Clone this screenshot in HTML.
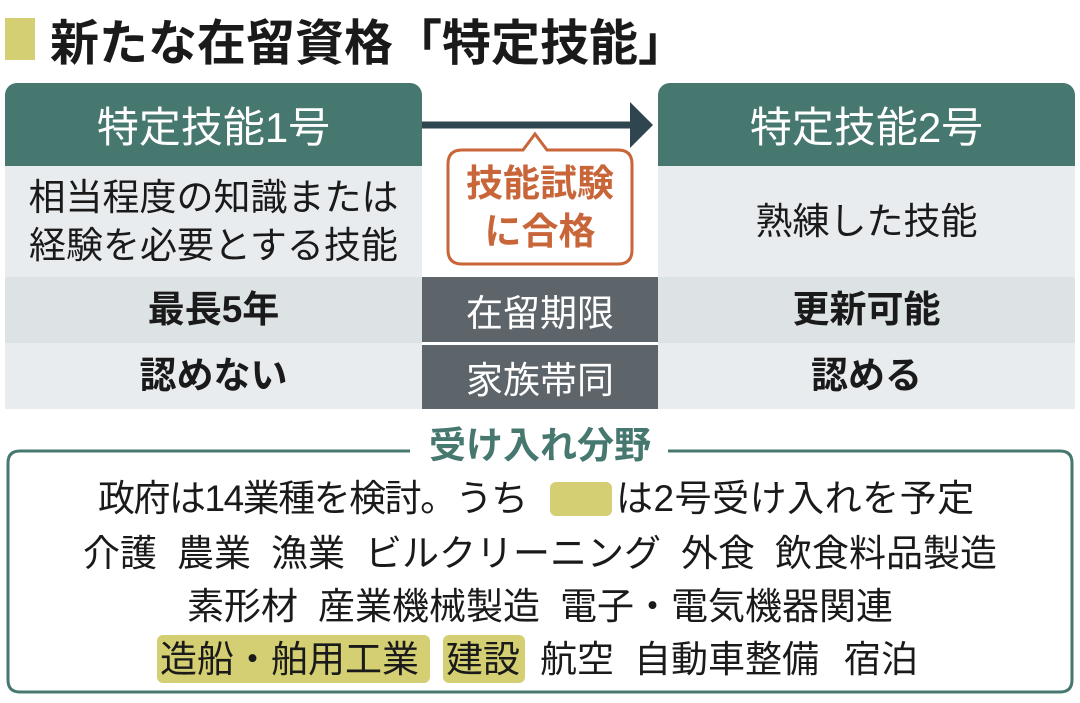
<!DOCTYPE html>
<html><head><meta charset="utf-8"><style>
*{margin:0;padding:0;box-sizing:border-box}
body{width:1080px;height:703px;background:#fff;position:relative;overflow:hidden;font-family:"Liberation Sans","Noto Sans CJK JP",sans-serif;color:#1a1a1a}
.a{position:absolute}
.c{display:flex;align-items:center;justify-content:center;text-align:center}
.hd{background:#477870;color:#fff;font-size:42px;border-radius:12px 12px 0 0}
.t{font-size:37px;line-height:48px;white-space:nowrap}
.l1{background:#e9ecee}.l2{background:#dde2e5}.l3{background:#e9ecee}
.g{background:#5e656a;color:#fff;font-size:37px}
.hl{background:#d3cf72;border-radius:6px}
.w{position:absolute;font-size:37px;white-space:nowrap;line-height:44px}
.ln{position:absolute;left:0;width:1080px;display:flex;justify-content:center;font-size:37px;white-space:nowrap;line-height:44px}
</style></head><body>
<div class="a" style="left:5px;top:18px;width:30px;height:42px;background:#d3cf72"></div>
<div class="a" style="left:50px;top:4px;font-size:49px;font-weight:bold;white-space:nowrap">新たな在留資格「特定技能」</div>

<div class="a c hd" style="left:5px;top:83px;width:417px;height:83px">特定技能1号</div>
<div class="a c hd" style="left:658px;top:83px;width:417px;height:83px">特定技能2号</div>
<div class="a c t l1" style="left:5px;top:166px;width:417px;height:111px">相当程度の知識または<br>経験を必要とする技能</div>
<div class="a c t l1" style="left:658px;top:166px;width:417px;height:111px">熟練した技能</div>
<div class="a c t l2" style="left:5px;top:277px;width:417px;height:66px;font-weight:bold">最長5年</div>
<div class="a c t l2" style="left:658px;top:277px;width:417px;height:66px;font-weight:bold">更新可能</div>
<div class="a c t l3" style="left:5px;top:343px;width:417px;height:66px;font-weight:bold">認めない</div>
<div class="a c t l3" style="left:658px;top:343px;width:417px;height:66px;font-weight:bold">認める</div>
<div class="a c g" style="left:422px;top:277px;width:236px;height:65px">在留期限</div>
<div class="a c g" style="left:422px;top:345px;width:236px;height:64px">家族帯同</div>

<svg class="a" style="left:0;top:0" width="1080" height="703">
<line x1="422" y1="125" x2="632" y2="125" stroke="#2f4650" stroke-width="7"/>
<polygon points="630,102 653,125 630,148" fill="#2f4650"/>
<path d="M462,150 H523 L535,134 L547,150 H618 Q632,150 632,164 V250 Q632,264 618,264 H462 Q448,264 448,250 V164 Q448,150 462,150 Z" fill="#fff" stroke="#c8663a" stroke-width="3"/>
<path d="M410,451 H20 Q8,451 8,463 V680 Q8,692 20,692 H1060 Q1072,692 1072,680 V463 Q1072,451 1060,451 H668" fill="none" stroke="#477870" stroke-width="3"/>
</svg>
<div class="a c" style="left:448px;top:158px;width:184px;height:100px;color:#c8663a;font-size:37px;font-weight:bold;line-height:48px">技能試験<br>に合格</div>
<div class="a" style="left:0;width:1080px;top:424px;text-align:center;color:#477870;font-size:37px;font-weight:bold;line-height:44px">受け入れ分野</div>

<div class="a hl" style="left:550px;top:482px;width:62px;height:34px"></div>
<div class="a hl" style="left:157px;top:635px;width:273px;height:48px"></div>
<div class="a hl" style="left:443px;top:635px;width:82px;height:48px"></div>
<div class="w" style="left:98px;top:477px;letter-spacing:-1.5px">政府は14業種を検討。うち</div>
<div class="w" style="left:616px;top:477px;letter-spacing:0.5px">は2号受け入れを予定</div>
<div class="ln" style="top:532px;gap:20px"><span>介護</span><span>農業</span><span>漁業</span><span>ビルクリーニング</span><span>外食</span><span>飲食料品製造</span></div>
<div class="ln" style="top:585px;gap:20px"><span>素形材</span><span>産業機械製造</span><span>電子・電気機器関連</span></div>
<div class="w" style="left:160px;top:638px">造船・舶用工業</div>
<div class="w" style="left:446px;top:638px">建設</div>
<div class="w" style="left:540px;top:638px">航空</div>
<div class="w" style="left:634px;top:638px">自動車整備</div>
<div class="w" style="left:844px;top:638px">宿泊</div>
</body></html>
